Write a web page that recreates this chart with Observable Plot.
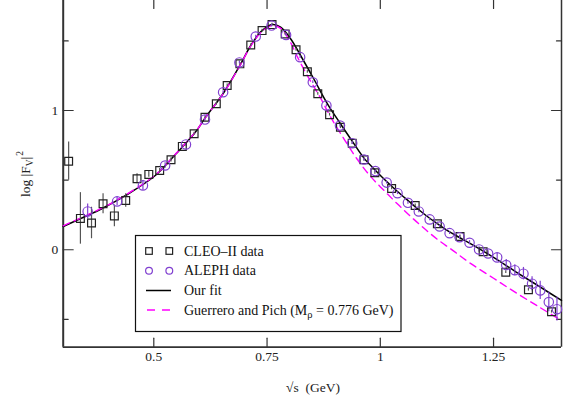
<!DOCTYPE html>
<html><head><meta charset="utf-8">
<script src="https://cdn.jsdelivr.net/npm/d3@7"></script>
<script src="https://cdn.jsdelivr.net/npm/@observablehq/plot@0.6"></script>
<style>
html,body{margin:0;padding:0;background:#fff;}
#chart{position:relative;width:565px;height:402px;overflow:hidden;background:#fff;}
</style></head><body><div id="chart"></div>
<script>
// CLEO-II data: sqrt(s) [GeV], log|F_V|^2, error
const cleoX = [0.312,0.338,0.3625,0.388,0.413,0.438,0.463,0.489,0.513,0.538,0.563,0.589,0.613,0.638,0.662,0.690,0.714,0.739,0.761,0.790,0.814,0.839,0.862,0.888,0.912,0.938,0.964,0.988,1.025,1.077,1.126,1.176,1.227,1.277,1.327,1.378];
const cleoY = [0.636,0.225,0.192,0.330,0.243,0.354,0.510,0.541,0.569,0.646,0.742,0.833,0.952,1.048,1.180,1.335,1.470,1.574,1.617,1.550,1.436,1.278,1.120,0.970,0.880,0.765,0.646,0.553,0.440,0.318,0.187,0.095,-0.014,-0.161,-0.287,-0.445];
const cleoErr = [0.137,0.185,0.113,0.072,0.078,0.048,0.036,0.02,0.015,0.015,0.01,0.01,0.01,0.01,0.01,0.01,0.01,0.01,0.01,0.01,0.01,0.01,0.01,0.01,0.01,0.01,0.01,0.01,0.01,0.01,0.01,0.01,0.01,0.01,0.01,0.01];

// ALEPH data
const alephX = [0.354,0.419,0.476,0.525,0.571,0.613,0.653,0.689,0.725,0.760,0.792,0.823,0.851,0.881,0.911,0.938,0.964,0.989,1.014,1.038,1.061,1.085,1.109,1.131,1.153,1.175,1.197,1.218,1.238,1.258,1.278,1.297,1.316,1.335,1.353,1.372,1.390];
const alephY = [0.275,0.347,0.462,0.605,0.756,0.935,1.131,1.345,1.531,1.610,1.543,1.383,1.203,1.036,0.892,0.765,0.648,0.565,0.482,0.406,0.337,0.275,0.218,0.167,0.119,0.090,0.050,0.002,-0.027,-0.055,-0.110,-0.147,-0.172,-0.244,-0.292,-0.376,-0.427];
const alephErr = [0.054,0.03,0.035,0.02,0.015,0.01,0.01,0.01,0.01,0.01,0.01,0.01,0.01,0.01,0.01,0.01,0.01,0.01,0.01,0.01,0.01,0.01,0.01,0.01,0.01,0.012,0.015,0.02,0.02,0.03,0.04,0.04,0.045,0.05,0.065,0.07,0.085];

// Our fit (solid black)
const fitX = [0.30,0.34,0.386,0.438,0.504,0.548,0.592,0.613,0.655,0.692,0.714,0.739,0.762,0.780,0.802,0.824,0.853,0.883,0.912,0.938,0.964,0.990,1.014,1.038,1.063,1.085,1.109,1.131,1.153,1.175,1.200,1.250,1.300,1.350,1.400];
const fitY = [0.167,0.226,0.296,0.390,0.535,0.685,0.845,0.945,1.131,1.335,1.467,1.574,1.617,1.598,1.515,1.395,1.228,1.050,0.905,0.780,0.658,0.568,0.490,0.418,0.348,0.287,0.226,0.176,0.128,0.088,0.042,-0.055,-0.160,-0.262,-0.364];

// Guerrero and Pich (dashed magenta)
const gpX = [0.30,0.34,0.386,0.438,0.504,0.548,0.592,0.613,0.655,0.692,0.714,0.739,0.762,0.780,0.800,0.817,0.840,0.868,0.890,0.920,0.950,0.979,1.016,1.052,1.089,1.126,1.163,1.200,1.250,1.300,1.350,1.400];
const gpY = [0.172,0.230,0.300,0.394,0.539,0.687,0.847,0.945,1.130,1.333,1.463,1.568,1.610,1.590,1.500,1.385,1.245,1.090,0.955,0.795,0.645,0.525,0.400,0.285,0.175,0.075,-0.012,-0.100,-0.205,-0.310,-0.410,-0.508];

const xDomain = [0.3, 1.4];
const yDomain = [-0.7, 1.79];
const xTicks = [0.5, 0.75, 1, 1.25];
const xTickLabels = ["0.5", "0.75", "1", "1.25"];
const yMajor = [0, 1];
const yTickLabels = ["0", "1"];
const yMinor = [-0.5, 0.5, 1.5];

const legendLabels = ["CLEO\u2013II data", "ALEPH data", "Our fit", "Guerrero and Pich (M"];

const cleo = cleoX.map((x, i) => ({x, y: cleoY[i], e: cleoErr[i]}));
const aleph = alephX.map((x, i) => ({x, y: alephY[i], e: alephErr[i]}));
const fit = fitX.map((x, i) => ({x, y: fitY[i]}));
const gp = gpX.map((x, i) => ({x, y: gpY[i]}));

const purple = "#8040d0";
const magenta = "#ff00ff";
const axisColor = "#333";

const up = {draw(c, l) { c.moveTo(0, 0); c.lineTo(0, -l); }};
const down = {draw(c, l) { c.moveTo(0, 0); c.lineTo(0, l); }};
const right = {draw(c, l) { c.moveTo(0, 0); c.lineTo(l, 0); }};
const left = {draw(c, l) { c.moveTo(0, 0); c.lineTo(-l, 0); }};

const chart = Plot.plot({
  width: 565,
  height: 402,
  marginLeft: 62.7,
  marginRight: 4,
  marginTop: 0,
  marginBottom: 55.3,
  style: {fontFamily: "'Liberation Serif', 'Times New Roman', serif", fontSize: "13.5px", background: "transparent", color: "#222"},
  x: {domain: xDomain},
  y: {domain: yDomain},
  marks: [
    Plot.axisX({ticks: xTicks, tickFormat: d => xTickLabels[xTicks.indexOf(d)], tickSize: 0, tickPadding: 4, label: null}),
    Plot.axisY({ticks: yMajor, tickFormat: d => yTickLabels[yMajor.indexOf(d)], tickSize: 0, tickPadding: 5, label: null}),
    // frame
    Plot.ruleX([xDomain[0]], {stroke: axisColor, strokeWidth: 2}),
    Plot.ruleX([xDomain[1]], {stroke: axisColor, strokeWidth: 1.5}),
    Plot.ruleY([yDomain[0]], {stroke: axisColor, strokeWidth: 1.8}),
    // inward ticks
    Plot.vector(xTicks, {x: d => d, y: yDomain[0], length: 9, anchor: "start", shape: up, stroke: axisColor, strokeWidth: 1.2}),
    Plot.vector(xTicks, {x: d => d, y: yDomain[1], length: 8, anchor: "start", shape: down, stroke: axisColor, strokeWidth: 1.2}),
    Plot.vector(yMajor, {y: d => d, x: xDomain[0], length: 10, anchor: "start", shape: right, stroke: axisColor, strokeWidth: 1.2}),
    Plot.vector(yMinor, {y: d => d, x: xDomain[0], length: 5, anchor: "start", shape: right, stroke: axisColor, strokeWidth: 1.2}),
    Plot.vector(yMajor, {y: d => d, x: xDomain[1], length: 10, anchor: "start", shape: left, stroke: axisColor, strokeWidth: 1.2}),
    Plot.vector(yMinor, {y: d => d, x: xDomain[1], length: 5, anchor: "start", shape: left, stroke: axisColor, strokeWidth: 1.2}),
    // curves
    Plot.line(fit, {x: "x", y: "y", curve: "catmull-rom", stroke: "#000", strokeWidth: 1.5}),
    Plot.line(gp, {x: "x", y: "y", curve: "catmull-rom", stroke: magenta, strokeWidth: 1.4, strokeDasharray: "7,5"}),
    // error bars
    Plot.ruleX(cleo, {x: "x", y1: d => d.y - d.e, y2: d => d.y + d.e, stroke: "#555", strokeWidth: 1.2}),
    Plot.ruleX(aleph, {x: "x", y1: d => d.y - d.e, y2: d => d.y + d.e, stroke: purple, strokeWidth: 1.2}),
    // markers
    Plot.dot(cleo, {x: "x", y: "y", symbol: "square", r: 4.4, stroke: "#222", strokeWidth: 1.2, fill: "none"}),
    Plot.dot(aleph, {x: "x", y: "y", symbol: "circle", r: 4.7, stroke: purple, strokeWidth: 1.2, fill: "none"})
  ]
});

const svg = d3.select(chart);
const font = "'Liberation Serif', 'Times New Roman', serif";

// y-axis label
const yl = svg.append("text").attr("transform", "translate(30,174) rotate(-90)")
  .attr("text-anchor", "middle").attr("font-family", font).attr("font-size", 13.5).attr("fill", "#222");
yl.append("tspan").text("log |F");
yl.append("tspan").attr("font-size", 9.5).attr("dy", 3).text("V");
yl.append("tspan").attr("dy", -3).text("|");
yl.append("tspan").attr("font-size", 9.5).attr("dy", -7).attr("dx", 1).text("2");

// x-axis label
svg.append("text").attr("x", 313).attr("y", 392).attr("text-anchor", "middle")
  .attr("font-family", font).attr("font-size", 13.5).attr("fill", "#222").text("\u221As  (GeV)");

// legend
const lg = svg.append("g").attr("text-anchor", "start");
lg.append("rect").attr("x", 135.5).attr("y", 235.5).attr("width", 265.5).attr("height", 96)
  .attr("fill", "#fff").attr("stroke", "#111").attr("stroke-width", 1.2);
const rowY = [251, 270.7, 290.5, 310];
[149, 169.3].forEach(cx => {
  lg.append("rect").attr("x", cx - 3.3).attr("y", rowY[0] - 3.3).attr("width", 6.6).attr("height", 6.6)
    .attr("fill", "none").attr("stroke", "#222").attr("stroke-width", 1.2);
  lg.append("circle").attr("cx", cx).attr("cy", rowY[1]).attr("r", 3.4)
    .attr("fill", "none").attr("stroke", purple).attr("stroke-width", 1.2);
});
lg.append("line").attr("x1", 146).attr("x2", 171).attr("y1", rowY[2]).attr("y2", rowY[2]).attr("stroke", "#000").attr("stroke-width", 1.5);
lg.append("line").attr("x1", 147).attr("x2", 171).attr("y1", rowY[3]).attr("y2", rowY[3]).attr("stroke", magenta).attr("stroke-width", 1.4).attr("stroke-dasharray", "8,7");
legendLabels.forEach((t, i) => {
  const tx = lg.append("text").attr("x", 184).attr("y", rowY[i] + 4.5).attr("text-anchor", "start")
    .attr("font-family", font).attr("font-size", 14).attr("fill", "#111");
  tx.append("tspan").text(t);
  if (i === 3) {
    tx.append("tspan").attr("font-size", 10.5).attr("dy", 3).text("\u03C1");
    tx.append("tspan").attr("dy", -3).text(" = 0.776 GeV)");
  }
});

document.getElementById("chart").appendChild(chart);
</script>
</body></html>
